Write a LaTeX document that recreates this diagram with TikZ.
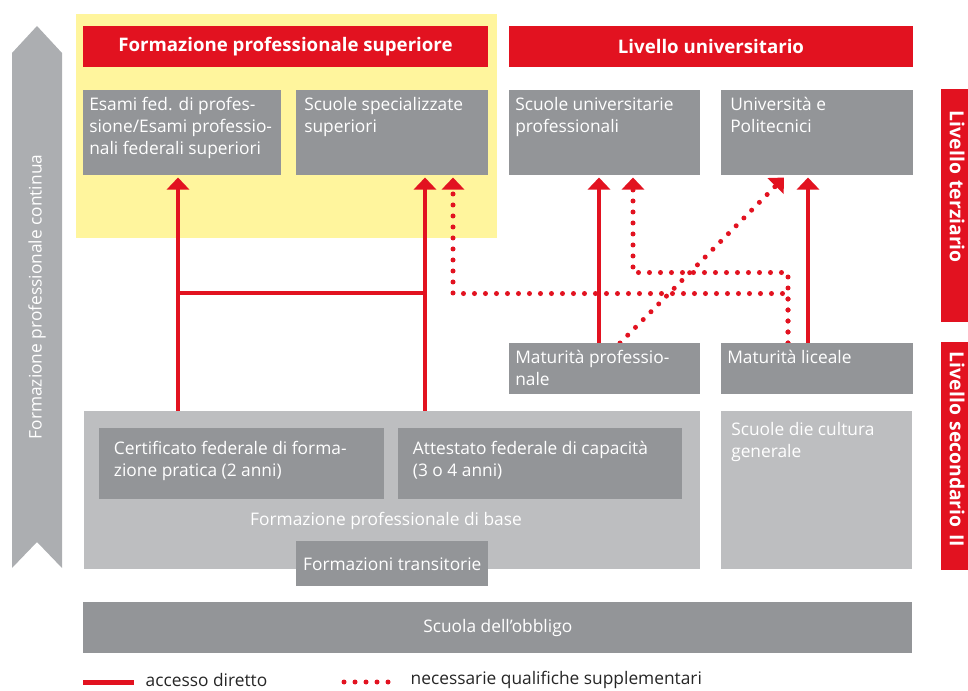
\documentclass[tikz,border=0pt]{standalone}
\usepackage{fontspec}
\setmainfont{Open Sans}
\usetikzlibrary{positioning,arrows.meta,calc,backgrounds}

\definecolor{chred}{RGB}{226,18,32}
\definecolor{boxgray}{RGB}{147,149,152}
\definecolor{basegray}{RGB}{189,190,192}
\definecolor{arrowgray}{RGB}{172,174,177}
\definecolor{fpsyellow}{RGB}{255,245,157}
\newcommand{\bodyfont}{\fontsize{13}{16.5}\selectfont}

\tikzset{grbox/.style={fill=boxgray, text=white, anchor=north west, inner xsep=4.5pt, inner ysep=5.5pt, font=\bodyfont},
  ltbox/.style={grbox, fill=basegray},
  headbox/.style={fill=chred, text=white, inner sep=0pt, font=\bfseries\fontsize{14}{16}\selectfont},
  sidebar/.style={fill=chred, text=white, rotate=-90, align=left, inner ysep=0pt, minimum height=24pt, font=\bfseries\fontsize{14.5}{16}\selectfont},
  legtext/.style={text=black!85, anchor=west, font=\bodyfont},
  accline/.style={draw=chred, line width=3pt},
  access/.style={accline, -{Triangle[width=16.5pt,length=9pt]}},
  dotline/.style={draw=chred, line width=3.75pt, line cap=round, dash pattern=on 0pt off 8.25pt},
  extra/.style={dotline, -{Triangle[width=16.5pt,length=9pt]}},}

\begin{document}
\begin{tikzpicture}[x=0.75pt, y=-0.75pt]
	\newcommand{\boxpage}[3]{\begin{minipage}[t][#2][t]{#1}\raggedright #3\end{minipage}}
	\useasboundingbox (0,0) rectangle (968,691);
	% continuing education
	\fill[arrowgray] (12,53) -- (37,26) -- (62,53) -- (62,568) -- (37,542) -- (12,568) -- cycle;
	\node[rotate=90, text=white, font=\bodyfont] (fpc) at (37,297) {Formazione professionale continua};
	% headers
	\node[headbox, minimum width=303.75pt, minimum height=30.75pt] (fps) at (285.5,46.5) {Formazione professionale superiore};
	\node[headbox, minimum width=303pt, minimum height=30.75pt] (lu) at (711,46.5) {Livello universitario};
	% tertiary level
	\node[grbox] (esami) at (83,90) {\boxpage{139.5pt}{52.75pt}{Esami fed. di profes-\\sione/Esami professio-\\nali federali superiori}};
	\node[grbox, inner xsep=6pt] (ssp) at (296,90) {\boxpage{132pt}{52.75pt}{Scuole specializzate\\superiori}};
	\node[grbox] (sup) at (509,90) {\boxpage{134.25pt}{52.75pt}{Scuole universitarie\\professionali}};
	\node[grbox, inner xsep=6.75pt] (uni) at (721,90) {\boxpage{130.5pt}{52.75pt}{Università e\\Politecnici}};
	% secondary level
	\node[grbox] (matp) at (509,343) {\boxpage{134.25pt}{27.25pt}{Maturità professio-\\nale}};
	\node[grbox] (matl) at (721,343) {\boxpage{135pt}{27.25pt}{Maturità liceale}};
	\node[ltbox, minimum width=462pt, minimum height=118.5pt] (base) at (84,411) {};
	\node[grbox, inner xsep=11pt, inner ysep=10pt] (cert) at (99,428) {\boxpage{191.75pt}{33.25pt}{Certificato federale di forma-\\zione pratica (2 anni)}};
	\node[grbox, inner xsep=11pt, inner ysep=10pt] (att) at (398,428) {\boxpage{191pt}{33.25pt}{Attestato federale di capacità\\(3 o 4 anni)}};
	\node[text=white, font=\bodyfont] (baselbl) at (386,521) {Formazione professionale di base};
	\node[grbox, minimum width=144pt, minimum height=33.75pt] (trans) at (296,541) {Formazioni transitorie};
	\node[ltbox, inner xsep=7.5pt, inner ysep=8pt] (cult) at (721,411) {\boxpage{128.25pt}{102.5pt}{Scuole die cultura\\generale}};
	\node[grbox, minimum width=621.75pt, minimum height=38.25pt] (obb) at (83,602) {Scuola dell’obbligo};
	% levels
	\node[sidebar, inner xsep=16.5pt, text width=141.75pt] (terz) at (957,205.5) {Livello terziario};
	\node[sidebar, inner xsep=7.5pt, text width=156pt] (sec) at (957,456) {Livello secondario II};
	% connectors
	\begin{scope}[on background layer]
		\fill[fpsyellow] (76,14) rectangle (497,238);
		\draw[access] ($(base.north west)+(94,0)$) -- ($(esami.south west)+(95,2)$);
		\draw[access] ($(base.north west)+(341,0)$) -- ($(ssp.south west)+(129,2)$);
		\draw[accline] ($(base.north west)+(94,-118)$) -- ++(247,0);
		\draw[access] ($(matp.north west)+(90,0)$) -- ($(sup.south west)+(90,2)$);
		\draw[access] ($(matl.north west)+(87,0)$) -- ($(uni.south west)+(87,2)$);
		\draw[extra] ($(matl.north west)+(67,0)$) |- ($(sup.south west)+(124,97)$) -- ($(sup.south west)+(124,2)$);
		\draw[extra] ($(matl.north west)+(67,0)$) |- ($(ssp.south west)+(157,118)$) -- ($(ssp.south west)+(157,2)$);
		\draw[extra] ($(matp.north west)+(111,0)$) -- ($(uni.south west)+(63,2)$);
	\end{scope}
	% legend
	\node[legtext] (lacc) at (141,680) {accesso diretto};
	\node[legtext] (lext) at (406,680) {necessarie qualifiche supplementari};
	\draw[accline, line width=3.75pt] ($(lacc.west)+(-58,2)$) -- ($(lacc.west)+(-7,2)$);
	\draw[dotline] ($(lext.west)+(-62,2)$) -- ($(lext.west)+(-10,2)$);
\end{tikzpicture}
\end{document}
